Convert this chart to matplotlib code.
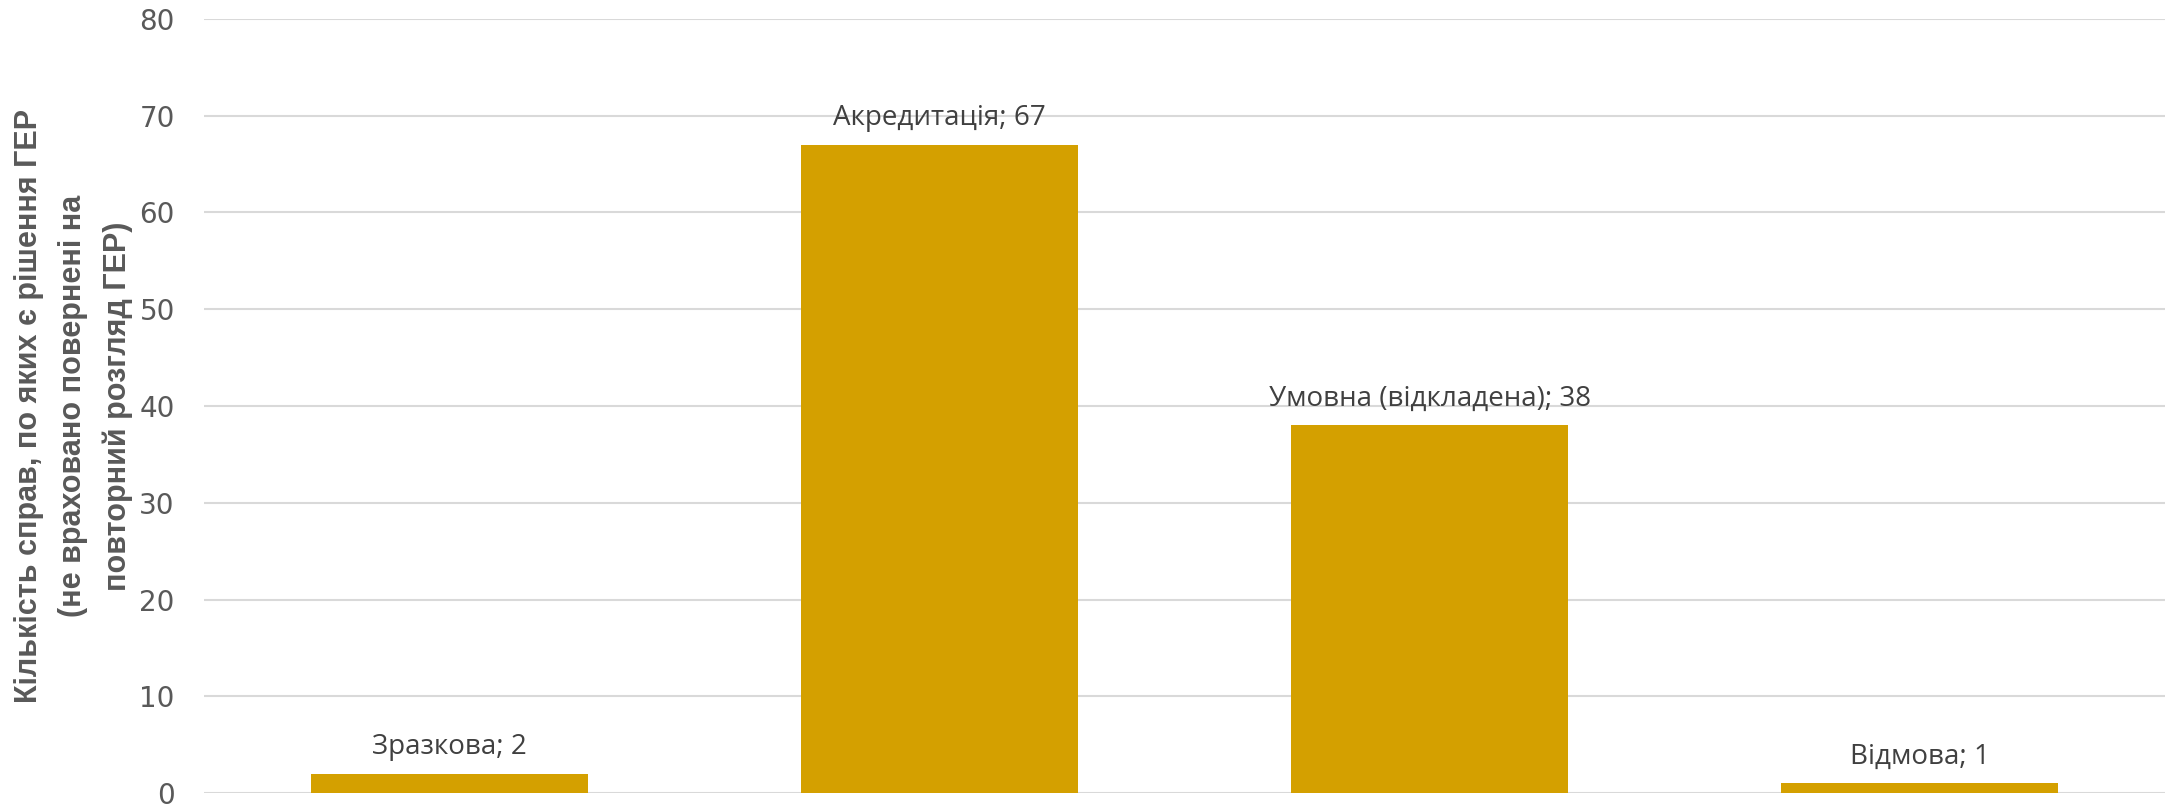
import matplotlib.pyplot as plt
import numpy as np

# Data
categories = ['Зразкова', 'Акредитація', 'Умовна (відкладена)', 'Відмова']
values = [2, 67, 38, 1]
y_ticks = [0, 10, 20, 30, 40, 50, 60, 70, 80]

bar_color = '#D4A000'
grid_color = '#D9D9D9'

fig = plt.figure(figsize=(21.65, 8.05), dpi=100)
ax = fig.add_axes([0.0942, 0.0149, 0.9058, 0.9615])

x = np.arange(len(categories))
ax.bar(x, values, width=0.565, color=bar_color, zorder=2)

# Data labels "category; value" above bars
for xi, cat, val in zip(x, categories, values):
    ax.annotate(f'{cat}; {val}', (xi, val), xytext=(0, 9), textcoords='offset points',
                ha='center', va='bottom', fontsize=20, color='#404040',
                family=['Open Sans', 'DejaVu Sans'])

ax.set_xlim(-0.5, 3.5)
ax.set_ylim(0, 80)
ax.set_yticks(y_ticks)
ax.set_xticks([])
ax.yaxis.grid(True, color=grid_color, linewidth=1.5, zorder=0)
ax.set_axisbelow(True)
for s in ax.spines.values():
    s.set_visible(False)
ax.tick_params(axis='y', length=0, pad=21, labelsize=20, labelcolor='#595959')

ax.set_ylabel('Кількість справ, по яких є рішення ГЕР\n(не враховано повернені на\nповторний розгляд ГЕР)',
              fontsize=22, fontweight='bold', color='#595959', linespacing=1.62,
              family=['Liberation Sans', 'DejaVu Sans'])
ax.yaxis.set_label_coords(-0.036, 0.5)

fig.savefig('out.png', dpi=100)
